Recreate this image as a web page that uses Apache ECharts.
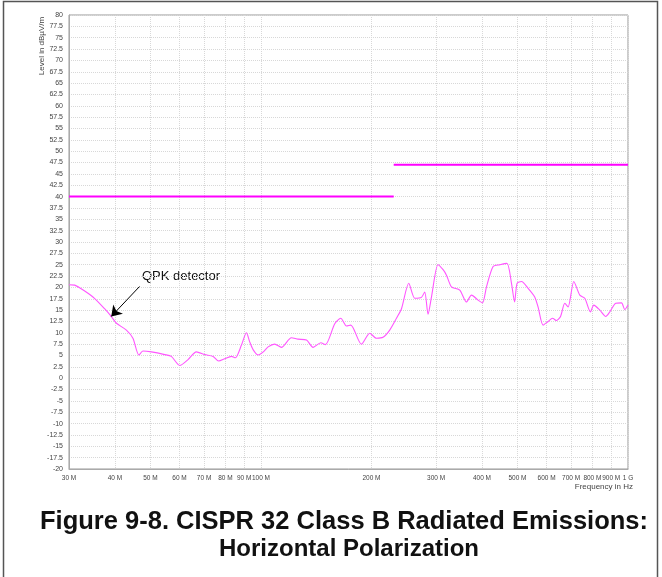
<!DOCTYPE html>
<html>
<head>
<meta charset="utf-8">
<script src="https://cdn.jsdelivr.net/npm/echarts@6/dist/echarts.min.js"></script>
<style>
  html, body { margin: 0; padding: 0; background: #fff; }
  #chart { width: 662px; height: 577px; }
</style>
</head>
<body>
<div id="chart"></div>
<script>
// Measured QPK level (dBµV/m) versus frequency (MHz)
const freqMHz = [30.0, 31.1, 33.1, 35.2, 37.5, 39.1, 40.4, 43.0, 44.8, 46.5, 47.7, 50.3, 54.7, 57.0, 60.1, 63.3, 66.7, 70.3, 74.1, 76.7, 79.7, 83.1, 85.2, 88.5, 91.3, 93.2, 95.2, 98.2, 101.5, 104.6, 109.0, 113.7, 121.1, 126.2, 133.1, 138.7, 145.6, 149.9, 158.9, 165.0, 171.0, 175.7, 187.8, 197.9, 206.4, 215.1, 224.3, 234.0, 241.5, 252.8, 262.5, 273.7, 279.4, 285.3, 291.5, 303.7, 313.5, 320.2, 330.5, 348.1, 363, 374.7, 390.5, 401.4, 411.6, 429, 447.5, 468, 481.5, 491, 498.7, 512.6, 534.4, 557, 568.8, 587, 606, 623, 638.7, 655, 672.7, 686.8, 711.8, 739, 762.7, 790, 807, 838, 870, 892, 926, 960, 980, 1000];
const levelQPK = [20.6, 20.5, 19.2, 17.6, 15.3, 13.6, 12.1, 10.6, 8.8, 5.1, 6.0, 5.8, 5.2, 4.8, 2.8, 4.1, 5.8, 5.2, 4.8, 3.8, 4.3, 4.8, 4.5, 7.3, 10.0, 8.0, 6.3, 5.1, 5.8, 6.9, 7.5, 6.8, 8.9, 8.6, 8.4, 6.8, 7.8, 7.4, 12.0, 13.2, 11.5, 11.7, 7.5, 9.9, 8.8, 9.0, 10.6, 13.2, 15.3, 20.9, 17.6, 17.8, 19.0, 14.1, 17.9, 25.0, 23.9, 22.7, 20.1, 19.4, 16.8, 18.3, 17.2, 16.6, 20.1, 24.6, 25.0, 25.3, 20.9, 16.8, 20.9, 21.3, 19.8, 17.9, 15.7, 11.7, 12.5, 13.2, 12.7, 13.6, 16.5, 15.7, 21.3, 18.3, 17.6, 14.6, 16.1, 15.0, 13.6, 14.6, 16.5, 16.6, 15.1, 16.1];

// Class B limit (dBµV/m) as breakpoints
const limitFreqLow = [30, 230];
const limitLow = [40, 40];
const limitFreqHigh = [230, 1000];
const limitHigh = [47, 47];

// Frequency axis ticks (MHz) and their labels
const tickFreqs = [30, 40, 50, 60, 70, 80, 90, 100, 200, 300, 400, 500, 600, 700, 800, 900, 1000];
const tickLabels = ['30 M', '40 M', '50 M', '60 M', '70 M', '80 M', '90 M', '100 M', '200 M', '300 M', '400 M', '500 M', '600 M', '700 M', '800 M', '900 M', '1 G'];

// Annotation arrow endpoints [MHz, dBµV/m]
const arrowFrom = [46.7, 20.2];
const arrowTo = [39.1, 13.6];

const zip = (xs, ys) => xs.map((x, i) => [x, ys[i]]);

const labelFont = "'Liberation Sans Narrow', 'Liberation Sans', Arial, sans-serif";
const chart = echarts.init(document.getElementById('chart'), null, { renderer: 'canvas' });

chart.setOption({
  animation: false,
  backgroundColor: '#fff',
  grid: {
    left: 69, top: 15, width: 559, height: 454,
    show: true, borderColor: '#999', borderWidth: 1
  },
  xAxis: {
    type: 'log', logBase: 10, min: 30, max: 1000,
    axisLine: { show: true, onZero: false, lineStyle: { color: '#aaa' } },
    axisTick: { show: false, customValues: tickFreqs },
    axisLabel: {
      customValues: tickFreqs,
      color: '#444', fontSize: 6.5, fontFamily: labelFont, margin: 6,
      formatter: function (v) {
        let best = 0;
        tickFreqs.forEach((t, i) => { if (Math.abs(Math.log(t / v)) < Math.abs(Math.log(tickFreqs[best] / v))) best = i; });
        return tickLabels[best];
      }
    },
    splitLine: { show: true, lineStyle: { color: '#d8d8d8', type: 'dotted', width: 1 } }
  },
  yAxis: {
    type: 'value', min: -20, max: 80, interval: 2.5,
    axisLine: { show: true, onZero: false, lineStyle: { color: '#aaa' } },
    axisTick: { show: false },
    axisLabel: { color: '#444', fontSize: 7, fontFamily: labelFont, margin: 6 },
    splitLine: { show: true, lineStyle: { color: '#d8d8d8', type: 'dotted', width: 1 } }
  },
  graphic: [
    { type: 'rect', shape: { x: 3.5, y: 1.5, width: 654, height: 590 }, style: { fill: 'none', stroke: '#555', lineWidth: 1.5 }, silent: true },
    { type: 'text', x: 42, y: 46, rotation: Math.PI / 2, style: { text: 'Level in dBµV/m', fill: '#444', font: "8px 'Liberation Sans', Arial, sans-serif", align: 'center', verticalAlign: 'middle' } },
    { type: 'text', x: 633, y: 487, style: { text: 'Frequency in Hz', fill: '#444', font: "8px 'Liberation Sans', Arial, sans-serif", align: 'right', verticalAlign: 'middle' } },
    { type: 'text', x: 142, y: 276, style: { text: 'QPK detector', fill: '#111', font: "13px 'Liberation Sans', Arial, sans-serif", align: 'left', verticalAlign: 'middle' } },
    { type: 'text', x: 344, y: 522, style: { text: 'Figure 9-8. CISPR 32 Class B Radiated Emissions:', fill: '#111', font: "bold 25.5px 'Liberation Sans', Arial, sans-serif", align: 'center', verticalAlign: 'middle' } },
    { type: 'text', x: 349, y: 549, style: { text: 'Horizontal Polarization', fill: '#111', font: "bold 24px 'Liberation Sans', Arial, sans-serif", align: 'center', verticalAlign: 'middle' } }
  ],
  series: [
    {
      name: 'Limit 30-230 MHz', type: 'line', data: zip(limitFreqLow, limitLow),
      showSymbol: false, lineStyle: { color: '#ff00ff', width: 2 }, z: 3
    },
    {
      name: 'Limit 230-1000 MHz', type: 'line', data: zip(limitFreqHigh, limitHigh),
      showSymbol: false, lineStyle: { color: '#ff00ff', width: 2 }, z: 3
    },
    {
      name: 'QPK', type: 'line', data: zip(freqMHz, levelQPK),
      showSymbol: false, smooth: 0.25,
      lineStyle: { color: '#ff55ff', width: 1.1 }, z: 4,
      markLine: {
        silent: true, animation: false,
        symbol: ['none', 'arrow'], symbolSize: 10,
        lineStyle: { color: '#000', width: 1, type: 'solid' },
        itemStyle: { color: '#000' },
        label: { show: false },
        emphasis: { disabled: true },
        data: [[{ coord: arrowFrom }, { coord: arrowTo }]]
      }
    }
  ]
});
</script>
</body>
</html>
